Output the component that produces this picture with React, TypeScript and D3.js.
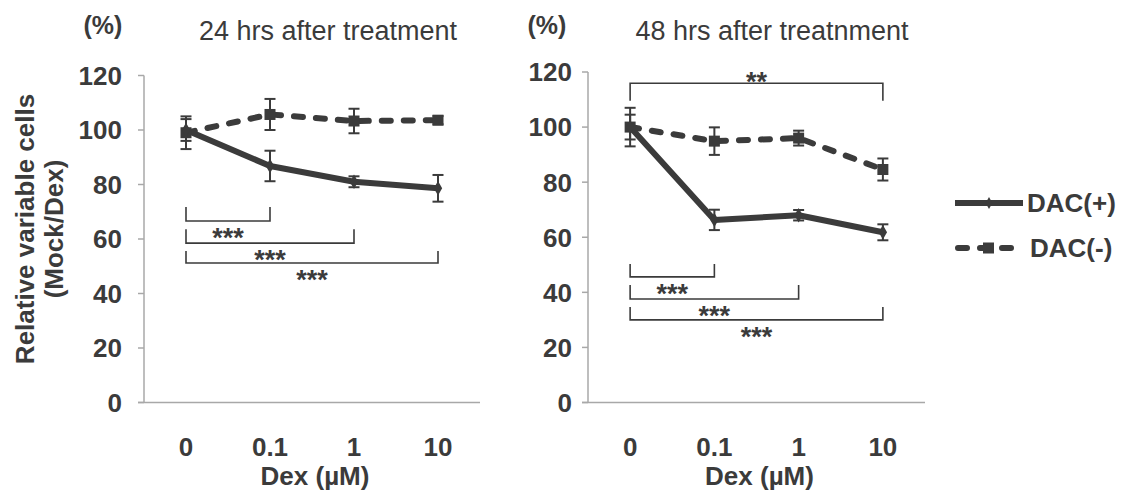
import React from "react";
import * as d3 from "d3";

// doses on the x axis
const doses = ["0", "0.1", "1", "10"];
const yTicks = [0, 20, 40, 60, 80, 100, 120];

// 24 hrs panel
const plus24 = [100, 86.8, 81.0, 78.6];
const plusErr24 = [4, 5.6, 2, 4.9];
const minus24 = [99, 105.7, 103.3, 103.6];
const minusErr24 = [6, 5.7, 4.5, 1.5];

// 48 hrs panel
const plus48 = [100, 66.3, 68.0, 61.8];
const plusErr48 = [7, 3.7, 1.9, 2.9];
const minus48 = [100, 94.9, 96.0, 84.6];
const minusErr48 = [4.5, 5, 2.7, 4];

// significance brackets: from dose, to dose, line level, tip level, stars
const brackets24 = [
  { from: "0", to: "0.1", at: 66.6, tip: 71.7, stars: "***" },
  { from: "0", to: "1", at: 58.5, tip: 63.6, stars: "***" },
  { from: "0", to: "10", at: 51.2, tip: 55.6, stars: "***" },
];
const brackets48 = [
  { from: "0", to: "0.1", at: 45.6, tip: 50.3, stars: "***" },
  { from: "0", to: "1", at: 37.6, tip: 42.7, stars: "***" },
  { from: "0", to: "10", at: 30.0, tip: 34.7, stars: "***" },
  { from: "0", to: "10", at: 115.9, tip: 109.6, stars: "**" },
];

const ink = "#3b3b3b";
const axisGrey = "#a8a8a8";
const font = "'Liberation Sans', Arial, sans-serif";

type Bracket = { from: string; to: string; at: number; tip: number; stars: string };

function Panel({ x0, x1, yTop, yBot, labelGap, title, plus, plusErr, minus, minusErr, brackets }: {
  x0: number; x1: number; yTop: number; yBot: number; labelGap: number; title: string;
  plus: number[]; plusErr: number[]; minus: number[]; minusErr: number[]; brackets: Bracket[];
}) {
  const x = d3.scaleBand().domain(doses).range([x0, x1]);
  const cx = (d: string) => (x(d) as number) + x.bandwidth() / 2;
  const y = d3.scaleLinear().domain([0, 120]).range([yBot, yTop]);
  const line = d3.line<number>().x((_, i) => cx(doses[i])).y(v => y(v));

  const errBars = (vals: number[], errs: number[], key: string) =>
    vals.map((v, i) => {
      const px = cx(doses[i]);
      const hi = y(v + errs[i]);
      const lo = y(v - errs[i]);
      return (
        <g key={key + i} stroke={ink} strokeWidth={2}>
          <line x1={px} x2={px} y1={hi} y2={lo} />
          <line x1={px - 5.5} x2={px + 5.5} y1={hi} y2={hi} />
          <line x1={px - 5.5} x2={px + 5.5} y1={lo} y2={lo} />
        </g>
      );
    });

  return (
    <g fontFamily={font}>
      <text x={x0 + 184} y={40} fontSize={27} fill={ink} textAnchor="middle">{title}</text>
      <text x={x0 - 41} y={34} fontSize={25} fontWeight="bold" fill={ink} textAnchor="middle">(%)</text>

      {/* y axis */}
      <line x1={x0} x2={x0} y1={yTop} y2={yBot} stroke={axisGrey} strokeWidth={1.5} />
      {yTicks.map(t => (
        <g key={t}>
          <line x1={x0 - 6} x2={x0} y1={y(t)} y2={y(t)} stroke={axisGrey} strokeWidth={1.5} />
          <text x={x0 - labelGap} y={y(t)} dy="0.36em" textAnchor="end" fontSize={26}
            fontWeight="bold" fill={ink}>{t}</text>
        </g>
      ))}

      {/* x axis */}
      <line x1={x0 - 6} x2={x1} y1={yBot} y2={yBot} stroke={axisGrey} strokeWidth={1.5} />
      {doses.map(d => (
        <text key={d} x={cx(d)} y={456} textAnchor="middle" fontSize={26} fontWeight="bold" fill={ink}>{d}</text>
      ))}
      <text x={(x0 + x1) / 2 + 3} y={485} textAnchor="middle" fontSize={26} fontWeight="bold" fill={ink}>Dex (µM)</text>

      {/* brackets */}
      {brackets.map((b, i) => {
        const bx1 = cx(b.from);
        const bx2 = cx(b.to);
        const by = y(b.at);
        const tip = y(b.tip);
        const above = b.tip < b.at;
        return (
          <g key={"b" + i}>
            <path d={`M${bx1},${tip}V${by}H${bx2}V${tip}`} fill="none" stroke={ink} strokeWidth={1.6} />
            <text x={(bx1 + bx2) / 2} y={above ? by + 8 : by + 26} textAnchor="middle" fontSize={27}
              fontWeight="bold" fill={ink}>{b.stars}</text>
          </g>
        );
      })}

      {errBars(minus, minusErr, "m")}
      {errBars(plus, plusErr, "p")}

      <path d={line(minus) ?? ""} fill="none" stroke={ink} strokeWidth={6} strokeDasharray="9 13"
        strokeLinecap="round" />
      <path d={line(plus) ?? ""} fill="none" stroke={ink} strokeWidth={6} strokeLinejoin="round" />

      {minus.map((v, i) => (
        <rect key={"ms" + i} x={cx(doses[i]) - 5.5} y={y(v) - 5.5} width={11} height={11} fill={ink} />
      ))}
      {plus.map((v, i) => (
        <path key={"pd" + i} d={d3.symbol(d3.symbolDiamond, 60)() ?? ""}
          transform={`translate(${cx(doses[i])},${y(v)})`} fill={ink} />
      ))}
    </g>
  );
}

export default function App() {
  return (
    <svg width={1121} height={491} style={{ position: "absolute", left: 0, top: 0, background: "#fff" }}>
      <g fontFamily={font} fontWeight="bold" fill={ink} fontSize={26}>
        <text transform="translate(34,229) rotate(-90)" textAnchor="middle">Relative variable cells</text>
        <text transform="translate(63,229) rotate(-90)" textAnchor="middle">(Mock/Dex)</text>
      </g>

      <Panel x0={144} x1={480} yTop={75.5} yBot={402.5} labelGap={22} title="24 hrs after treatment"
        plus={plus24} plusErr={plusErr24} minus={minus24} minusErr={minusErr24} brackets={brackets24} />
      <Panel x0={588} x1={925} yTop={72} yBot={402.5} labelGap={16} title="48 hrs after treatnment"
        plus={plus48} plusErr={plusErr48} minus={minus48} minusErr={minusErr48} brackets={brackets48} />

      {/* legend */}
      <g fontFamily={font} fontWeight="bold" fontSize={26} fill={ink}>
        <line x1={955} x2={1023} y1={203} y2={203} stroke={ink} strokeWidth={6} />
        <path d={d3.symbol(d3.symbolDiamond, 40)() ?? ""} transform="translate(989,203)" fill={ink} />
        <text x={1027} y={203} dy="0.36em">DAC(+)</text>
        <line x1={958} x2={1020} y1={248} y2={248} stroke={ink} strokeWidth={6} strokeDasharray="9 13"
          strokeLinecap="round" />
        <rect x={983} y={242.5} width={11} height={11} fill={ink} />
        <text x={1030} y={248} dy="0.36em">DAC(-)</text>
      </g>
    </svg>
  );
}
